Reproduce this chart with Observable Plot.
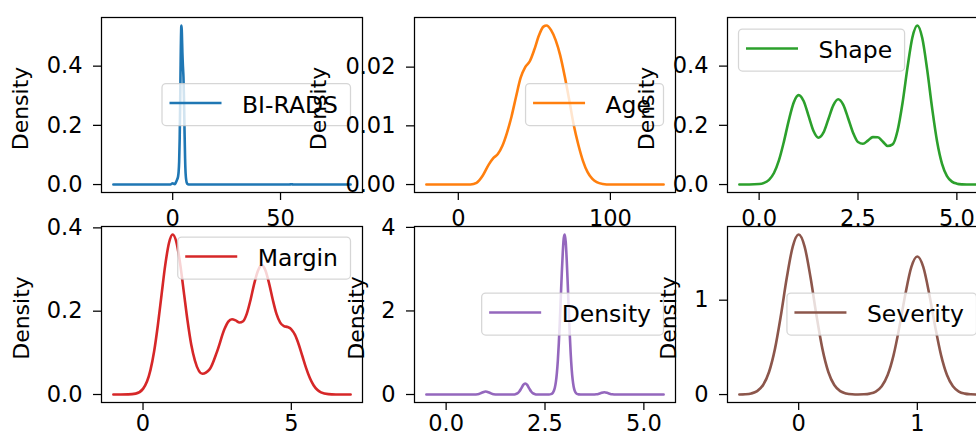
<!DOCTYPE html>
<html><head><meta charset="utf-8">
<script src="https://cdn.jsdelivr.net/npm/d3@7"></script>
<script src="https://cdn.jsdelivr.net/npm/@observablehq/plot@0.6"></script>
<style>
html,body{margin:0;padding:0;background:#fff;}
#fig{position:relative;width:976px;height:436px;overflow:hidden;background:#fff;font-family:"DejaVu Sans",sans-serif;}
#fig svg{position:absolute;}
</style></head><body><div id="fig"></div>
<script>
// ---- data (density estimates) ----
const biradsX = [-27.5,-10,-2,-1,-0.5,0,0.5,1,1.5,2,2.5,2.75,3,3.25,3.5,3.75,4,4.1,4.25,4.5,4.75,5,5.25,5.5,5.75,6,6.5,7,8,20,50,54,55,56,60,82.5];
const biradsY = [0,0,0,0.0004,0.0025,0.0046,0.0025,0.0015,0.0071,0.0157,0.027,0.0425,0.0775,0.1554,0.2922,0.448,0.5346,0.5375,0.5132,0.445,0.3995,0.3623,0.286,0.1796,0.0888,0.0374,0.0068,0.0009,0,0,0,0.0001,0.0009,0.0001,0,0];

const ageX = [-21,0,8,12,16,20,23,26,29,32,35,38,41,44,47,50,53,56,58,61,64,67,70,73,76,79,82,85,88,91,95,100,135];
const ageY = [0,0,0.00002,0.0003,0.0015,0.0034,0.0045,0.0052,0.0066,0.0088,0.0116,0.0150,0.0182,0.0200,0.0210,0.0230,0.0254,0.0269,0.0271,0.0263,0.0246,0.0220,0.0184,0.0143,0.0100,0.0067,0.0040,0.0021,0.0010,0.0004,0.0001,0,0];

const shapeX = [-0.5,-0.25,0,0.125,0.25,0.375,0.5,0.625,0.75,0.875,1,1.125,1.25,1.375,1.5,1.625,1.75,1.875,2,2.125,2.25,2.375,2.5,2.625,2.75,2.875,3,3.125,3.25,3.375,3.5,3.625,3.75,3.875,4,4.125,4.25,4.375,4.5,4.625,4.75,4.875,5,5.125,5.25,5.5];
const shapeY = [0,0.0001,0.0016,0.0055,0.016,0.0391,0.0815,0.1442,0.2169,0.2774,0.302,0.2822,0.2319,0.181,0.1582,0.175,0.2205,0.2673,0.288,0.270,0.224,0.175,0.1435,0.1376,0.1485,0.160,0.1595,0.1455,0.1301,0.1356,0.1819,0.2747,0.394,0.4968,0.5373,0.4947,0.3872,0.2575,0.1455,0.0699,0.0285,0.0099,0.0029,0.0007,0.00015,0];

const marginX = [-1,-0.75,-0.5,-0.25,0,0.25,0.375,0.5,0.625,0.75,0.875,1,1.125,1.25,1.375,1.5,1.625,1.75,2,2.25,2.5,2.75,2.875,3,3.125,3.25,3.375,3.5,3.625,3.75,3.875,4,4.125,4.25,4.375,4.5,4.625,4.75,4.875,5,5.125,5.25,5.375,5.5,5.625,5.75,5.875,6,6.25,6.5,6.75,7];
const marginY = [0,0,0.0002,0.0021,0.0136,0.0585,0.1038,0.1662,0.2395,0.3111,0.3637,0.3841,0.3657,0.3149,0.2465,0.1776,0.12,0.0814,0.0499,0.061,0.104,0.1576,0.175,0.1808,0.1778,0.1728,0.176,0.1942,0.227,0.2662,0.297,0.3105,0.2983,0.2669,0.2276,0.1936,0.1727,0.1644,0.1619,0.1566,0.143,0.1201,0.0918,0.0635,0.0396,0.0223,0.0113,0.0052,0.0008,0.0001,0,0];

const densityX = [-0.5,0.5,0.7,0.8,0.9,1.0,1.1,1.2,1.3,1.5,1.7,1.75,1.8,1.85,1.9,1.95,2.0,2.05,2.1,2.15,2.2,2.25,2.3,2.4,2.5,2.6,2.65,2.7,2.725,2.75,2.775,2.8,2.825,2.85,2.875,2.9,2.925,2.95,2.975,3.0,3.025,3.05,3.075,3.1,3.125,3.15,3.175,3.2,3.225,3.25,3.3,3.35,3.4,3.5,3.6,3.7,3.8,3.9,4.0,4.1,4.2,4.3,4.4,5.5];
const densityY = [0,0,0.0004,0.0069,0.040,0.0718,0.040,0.0069,0.0004,0,0.0014,0.0069,0.0256,0.0711,0.1476,0.2289,0.2649,0.2289,0.1476,0.0711,0.0256,0.0069,0.0014,0.0001,0,0.0015,0.0092,0.044,0.0885,0.168,0.302,0.512,0.82,1.2365,1.753,2.335,2.915,3.407,3.75,3.83,3.64,3.205,2.648,2.038,1.46,0.973,0.6035,0.348,0.187,0.0931,0.0186,0.0028,0.0003,0,0,0.0003,0.0052,0.030,0.0539,0.030,0.0052,0.0003,0,0];

const severityX = [-0.5,-0.45,-0.4,-0.35,-0.3,-0.25,-0.2,-0.15,-0.1,-0.05,0,0.05,0.1,0.15,0.2,0.25,0.3,0.35,0.4,0.45,0.5,0.55,0.6,0.65,0.7,0.75,0.8,0.85,0.9,0.95,1.0,1.05,1.1,1.15,1.2,1.25,1.3,1.35,1.4,1.45,1.5];
const severityY = [0.0007,0.003,0.0113,0.0365,0.101,0.2393,0.4842,0.838,1.2398,1.5683,1.696,1.5683,1.2398,0.838,0.4842,0.2393,0.101,0.0365,0.0113,0.0031,0.0013,0.0027,0.0097,0.0315,0.0871,0.2064,0.4176,0.7228,1.0693,1.3527,1.4628,1.3527,1.0693,0.7228,0.4176,0.2064,0.0871,0.0315,0.0097,0.0026,0.0006];

const names = ["BI-RADS","Age","Shape","Margin","Density","Severity"];
const seriesX = [biradsX, ageX, shapeX, marginX, densityX, severityX];
const seriesY = [biradsY, ageY, shapeY, marginY, densityY, severityY];
const xTicks = [[0,50],[0,100],[0,2.5,5],[0,5],[0,2.5,5],[0,1]];
const yTicks = [[0,0.2,0.4],[0,0.01,0.02],[0,0.2,0.4],[0,0.2,0.4],[0,2,4],[0,1]];
const xFormats = ["d","d",".1f","d",".1f","d"];
const yFormats = [".1f",".2f",".1f",".1f","d","d"];
const yLabel = "Density";

// ---- layout / style ----
const colors = ["#1f77b4","#ff7f0e","#2ca02c","#d62728","#9467bd","#8c564b"];
const lefts = [101,414,727,101,414,727];
const tops = [17,17,17,226,226,226];
const heights = [175,175,175,176,176,176];
const xPads = [10,10,10,5,5,5];
const PW = 261;
const legendLoc = ["center right","center right","upper left","upper right","center right","center right"];
const ylabOff = [81,96,81,80,58,59];
const ML = 112, MR = 12, MT = 12, MB = 46;
const FS = 22.5;
const LW = 2.6;

const fig = document.getElementById("fig");
names.forEach((name, k) => {
  const xs = seriesX[k], ys = seriesY[k];
  const data = xs.map((x, i) => ({x, y: ys[i]}));
  const [x0, x1] = d3.extent(xs), [y0, y1] = d3.extent(ys);
  const xp = 0.05 * (x1 - x0), yp = 0.05 * (y1 - y0);
  const W = PW, H = heights[k];
  const svg = Plot.plot({
    width: W + ML + MR, height: H + MT + MB,
    marginLeft: ML, marginRight: MR, marginTop: MT, marginBottom: MB,
    style: {background: "transparent", overflow: "visible", fontFamily: "DejaVu Sans", fontSize: FS + "px", color: "#000"},
    x: {domain: [x0 - xp, x1 + xp]},
    y: {domain: [y0 - yp, y1 + yp]},
    marks: [
      Plot.frame({fill: "white", stroke: "none"}),
      Plot.line(data, {x: "x", y: "y", stroke: colors[k], strokeWidth: LW, curve: "monotone-x"}),
      Plot.frame({stroke: "black", strokeWidth: 1.25}),
      Plot.axisX({anchor: "bottom", ticks: xTicks[k], tickFormat: d3.format(xFormats[k]), tickSize: 8, tickPadding: xPads[k], fontSize: FS, label: null, strokeWidth: 1.25}),
      Plot.axisY({anchor: "left", ticks: yTicks[k], tickFormat: d3.format(yFormats[k]), tickSize: 8, tickPadding: 11, fontSize: FS, label: null, strokeWidth: 1.25}),
      Plot.text([yLabel], {frameAnchor: "left", textAnchor: "middle", lineAnchor: "middle", dx: -ylabOff[k], dy: 3.5, rotate: -90, fontSize: 22, text: d => d, fill: "#000"})
    ]
  });
  svg.style.left = (lefts[k] - ML) + "px";
  svg.style.top = (tops[k] - MT) + "px";
  fig.appendChild(svg);

  // legend (matplotlib style box)
  const g = d3.select(svg).append("g").attr("text-anchor", "start");
  const box = g.append("rect");
  const ln = g.append("line");
  const tx = g.append("text").text(name)
    .attr("text-anchor", "start")
    .attr("font-size", 23.5).attr("font-family", "DejaVu Sans").attr("fill", "#000");
  const tw = tx.node().getComputedTextLength();
  const bw = 7.5 + 52 + 20.5 + tw + 12.5, bh = 42;
  let bx, by;
  if (legendLoc[k] === "upper left") { bx = ML + 11.5; by = MT + 12; }
  else if (legendLoc[k] === "upper right") { bx = ML + W - 11.5 - bw; by = MT + 11; }
  else { bx = ML + W - 11.5 - bw; by = MT + H / 2 - bh / 2; }
  box.attr("x", bx).attr("y", by).attr("width", bw).attr("height", bh)
    .attr("rx", 4).attr("fill", "white").attr("fill-opacity", 0.8)
    .attr("stroke", "#cccccc").attr("stroke-opacity", 0.8).attr("stroke-width", 1.25);
  ln.attr("x1", bx + 7.5).attr("x2", bx + 59.5).attr("y1", by + bh / 2 - 1.5).attr("y2", by + bh / 2 - 1.5)
    .attr("stroke", colors[k]).attr("stroke-width", LW);
  tx.attr("x", bx + 80).attr("y", by + bh / 2).attr("dy", "0.35em");
});
</script></body></html>
